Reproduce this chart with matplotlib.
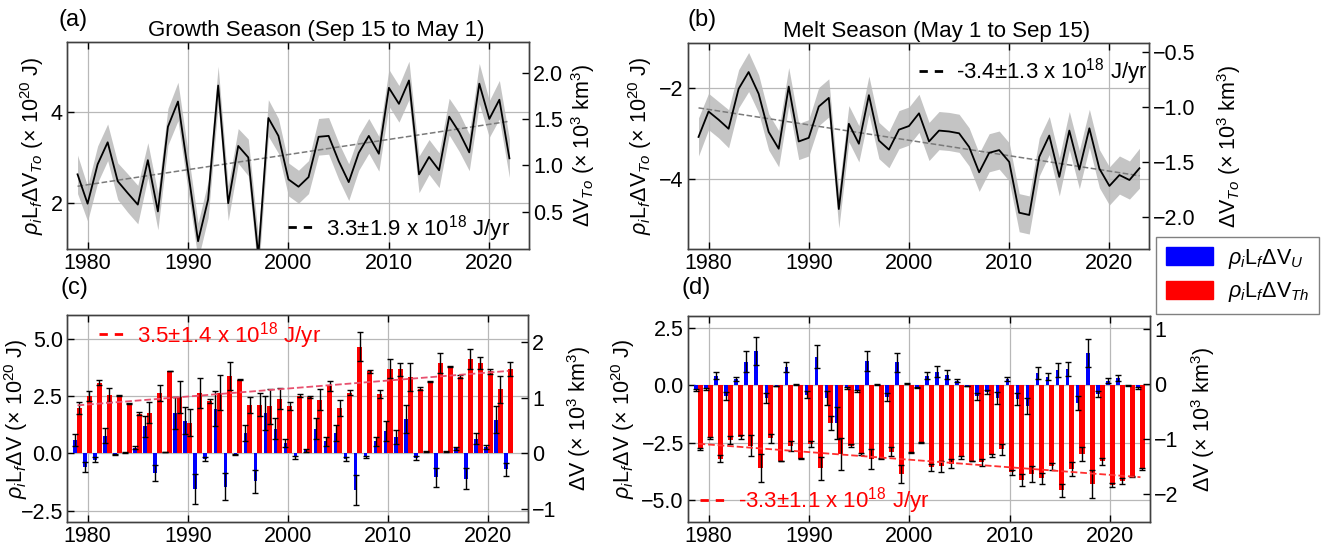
import numpy as np
import matplotlib
matplotlib.use('Agg')
import matplotlib.pyplot as plt
from matplotlib.lines import Line2D
from matplotlib.patches import Patch

plt.rcParams['font.family'] = ['Liberation Sans', 'DejaVu Sans']
plt.rcParams['mathtext.fontset'] = 'custom'
plt.rcParams['mathtext.rm'] = 'Liberation Sans'
plt.rcParams['mathtext.it'] = 'Liberation Sans:italic'
plt.rcParams['mathtext.bf'] = 'Liberation Sans:bold'

# ---------------- data ----------------
years_a = list(range(1979, 2023))
growth_total = [2.63, 1.99, 2.85, 3.33, 2.48, 2.22, 1.97, 2.94, 1.82, 3.67, 4.22, 2.70, 1.17, 2.08, 4.57,
                2.00, 3.25, 3.00, 0.85, 3.86, 3.47, 2.52, 2.36, 2.57, 3.45, 3.47, 2.92, 2.46, 3.10, 3.47,
                3.08, 4.52, 4.17, 4.68, 2.63, 3.01, 2.72, 3.89, 3.55, 3.11, 4.61, 3.84, 4.26, 2.98]
growth_unc = [0.42, 0.38, 0.40, 0.40, 0.40, 0.42, 0.42, 0.38, 0.40, 0.40, 0.42, 0.42, 0.40, 0.40, 0.42,
              0.38, 0.38, 0.40, 0.42, 0.40, 0.38, 0.36, 0.36, 0.36, 0.40, 0.40, 0.40, 0.40, 0.38, 0.38,
              0.38, 0.40, 0.40, 0.42, 0.40, 0.38, 0.38, 0.40, 0.42, 0.40, 0.44, 0.40, 0.42, 0.42]

years_b = list(range(1979, 2024))
melt_total = [-3.07, -2.51, -2.69, -2.89, -2.01, -1.64, -2.12, -2.96, -3.33, -1.96, -3.17, -3.09, -2.40,
              -2.21, -4.66, -2.78, -3.22, -2.15, -3.15, -3.35, -2.91, -2.83, -2.55, -3.17, -2.93, -2.95,
              -2.99, -3.29, -3.85, -3.42, -3.36, -3.62, -4.74, -4.79, -3.51, -3.04, -3.95, -2.93, -3.79,
              -2.88, -3.77, -4.15, -3.91, -4.02, -3.76]
melt_unc = [0.42, 0.40, 0.40, 0.42, 0.42, 0.43, 0.42, 0.40, 0.40, 0.42, 0.40, 0.40, 0.42, 0.42, 0.42,
            0.40, 0.40, 0.42, 0.40, 0.40, 0.42, 0.42, 0.42, 0.42, 0.42, 0.42, 0.42, 0.42, 0.42, 0.42,
            0.42, 0.42, 0.42, 0.42, 0.42, 0.42, 0.42, 0.42, 0.42, 0.42, 0.42, 0.42, 0.42, 0.42, 0.44]

growth_U = [0.60, -0.58, -0.28, 0.78, -0.05, 0.02, 0.25, 1.18, -0.85, 0.06, 1.75, 1.43, -1.57, -0.25, 1.95,
            -1.45, -0.03, 0.87, -1.22, 1.78, 1.08, 0.45, -0.18, 0.13, 1.08, 0.52, 0.90, -0.25, -1.60, -0.15,
            0.52, 0.98, 0.73, 1.52, -0.20, 0.08, -1.05, 0.08, 0.22, -1.10, 0.65, 0.27, 1.48, -0.70]
growth_Th = [1.99, 2.49, 3.09, 2.56, 2.52, 2.20, 1.73, 1.78, 2.65, 3.60, 2.46, 1.34, 2.65, 2.29, 2.65,
             3.39, 3.23, 2.13, 2.13, 2.05, 2.39, 2.07, 2.53, 2.46, 2.34, 2.94, 1.99, 2.65, 4.67, 3.58,
             2.60, 3.70, 3.67, 3.35, 2.82, 3.14, 3.96, 3.80, 3.36, 4.13, 3.96, 3.58, 2.80, 3.70]
growth_err = [0.26, 0.22, 0.10, 0.32, 0.02, 0.02, 0.07, 0.47, 0.35, 0.02, 0.70, 0.60, 0.66, 0.10, 0.77,
              0.61, 0.02, 0.35, 0.50, 0.75, 0.45, 0.17, 0.06, 0.06, 0.46, 0.21, 0.36, 0.10, 0.65, 0.05,
              0.19, 0.42, 0.30, 0.61, 0.07, 0.03, 0.43, 0.03, 0.07, 0.45, 0.25, 0.10, 0.60, 0.30]

melt_U = [-0.22, -0.17, 0.40, -0.49, 0.26, 1.01, 1.49, -0.56, -0.03, 0.79, 0.03, -0.43, 1.23, -0.56, -1.66,
          -0.14, -0.25, 1.05, 0.03, -0.53, 0.98, 0.07, -0.10, 0.40, 0.58, 0.45, 0.19, -0.04, -0.49, -0.29,
          -0.56, 0.26, -0.61, -0.92, 0.52, 0.36, 0.66, 0.71, -0.79, 1.40, -0.39, 0.19, 0.30, -0.02, -0.13]
melt_Th = [-2.77, -2.31, -3.21, -2.37, -2.27, -2.63, -3.61, -2.31, -3.31, -2.63, -3.21, -2.56, -3.61, -1.66,
           -2.99, -2.63, -2.99, -3.21, -3.18, -2.89, -3.86, -2.92, -2.49, -3.57, -3.53, -3.42, -3.14, -3.31,
           -3.35, -3.06, -2.80, -3.79, -4.12, -3.86, -4.05, -3.53, -4.58, -3.64, -2.99, -4.29, -3.31, -4.34,
           -4.15, -3.97, -3.64]
melt_err = [0.05, 0.05, 0.15, 0.17, 0.08, 0.45, 0.60, 0.20, 0.01, 0.22, 0.02, 0.15, 0.50, 0.30, 0.70,
            0.05, 0.05, 0.45, 0.02, 0.18, 0.40, 0.03, 0.03, 0.15, 0.25, 0.20, 0.07, 0.01, 0.15, 0.08,
            0.25, 0.10, 0.25, 0.35, 0.25, 0.15, 0.30, 0.30, 0.30, 0.60, 0.15, 0.10, 0.13, 0.01, 0.03]

# trends (x 10^20 J per yr, value at 1979)
trend_a = (0.033, 2.37)
trend_b = (-0.034, -2.43)
trend_c = (0.035, 2.10)
trend_d = (-0.033, -2.55)
trend_labels = [r'3.3$\pm$1.9 x 10$^{18}$ J/yr', r'-3.4$\pm$1.3 x 10$^{18}$ J/yr',
                r'3.5$\pm$1.4 x 10$^{18}$ J/yr', r'-3.3$\pm$1.1 x 10$^{18}$ J/yr']

# ---------------- figure ----------------
W, H = 1325, 553
fig = plt.figure(figsize=(W / 100, H / 100), dpi=100)

def axbox(l, r, t, b):
    return [l / W, 1 - b / H, (r - l) / W, (b - t) / H]

ax_a = fig.add_axes(axbox(67, 529, 42, 249))
ax_b = fig.add_axes(axbox(688, 1149, 43, 249))
ax_c = fig.add_axes(axbox(67, 528, 315, 522))
ax_d = fig.add_axes(axbox(688, 1150, 316, 522))

SPINE = '#404040'
FS = 15.5     # tick labels
LFS = 15.5    # axis labels
TFS = 16      # titles / trend legends

def style(ax):
    ax.set_xlim(1977.95, 2023.95)
    ax.set_xticks([1980, 1990, 2000, 2010, 2020])
    ax.grid(True, color='#b8b8b8', lw=0.9)
    ax.tick_params(direction='in', top=True, length=5, width=1, labelsize=FS, colors='black', pad=3)
    for s in ax.spines.values():
        s.set_color(SPINE)
        s.set_linewidth(1.0)

def twin(ax, lim, ticks):
    r = ax.twinx()
    r.set_ylim(*lim)
    r.set_yticks(ticks)
    r.tick_params(direction='in', length=5, width=1, labelsize=FS, pad=3)
    for s in r.spines.values():
        s.set_color(SPINE)
        s.set_linewidth(1.0)
    return r

def trend_line(ax, years, tr, **kw):
    y = np.array(years, dtype=float)
    ax.plot(y, tr[1] + tr[0] * (y - 1979), **kw)

lab_to = r'$\rho_i\mathrm{L}_f\Delta\mathrm{V}_{To}$ (× 10$^{20}$ J)'
lab_v = r'$\rho_i\mathrm{L}_f\Delta\mathrm{V}$ (× 10$^{20}$ J)'
rlab_to = r'$\Delta\mathrm{V}_{To}$ (× 10$^3$ km$^3$)'
rlab_v = r'$\Delta\mathrm{V}$ (× 10$^3$ km$^3$)'

def trend_legend(ax, color, label, anchor, textcolor='black'):
    ax.legend([Line2D([], [], color=color, ls=(0, (3, 2.5)), lw=2)], [label],
              loc='center left', bbox_to_anchor=anchor, frameon=False, fontsize=TFS,
              handlelength=1.3, handletextpad=0.4, borderpad=0, borderaxespad=0,
              labelcolor=textcolor)

# ----- (a) -----
ya = np.array(years_a); va = np.array(growth_total); ua = np.array(growth_unc)
ax_a.fill_between(ya, va - ua, va + ua, color='#c4c4c4', lw=0, zorder=1)
ax_a.plot(ya, va, color='black', lw=1.3, zorder=3)
trend_line(ax_a, years_a, trend_a, ls='--', color='#7a7a7a', lw=1.1, zorder=2)
style(ax_a)
ax_a.set_ylim(1.0, 5.52)
ax_a.set_yticks([2, 4])
ax_a.set_ylabel(lab_to, fontsize=LFS)
ax_a.yaxis.set_label_coords(-0.046, 0.5)
ra = twin(ax_a, (0.10, 2.33), [0.5, 1.0, 1.5, 2.0])
ra.set_ylabel(rlab_to, fontsize=LFS)
ra.yaxis.set_label_coords(1.086, 0.5)
trend_legend(ax_a, 'black', trend_labels[0], (0.478, 0.10))
ax_a.text(0.54, 1.005, 'Growth Season (Sep 15 to May 1)', transform=ax_a.transAxes,
          ha='center', va='bottom', fontsize=TFS)

# ----- (b) -----
yb = np.array(years_b); vb = np.array(melt_total); ub = np.array(melt_unc)
ax_b.fill_between(yb, vb - ub, vb + ub, color='#c4c4c4', lw=0, zorder=1)
ax_b.plot(yb, vb, color='black', lw=1.3, zorder=3)
trend_line(ax_b, years_b, trend_b, ls='--', color='#7a7a7a', lw=1.1, zorder=2)
style(ax_b)
ax_b.set_ylim(-5.54, -1.0)
ax_b.set_yticks([-4, -2])
ax_b.set_ylabel(lab_to, fontsize=LFS)
ax_b.yaxis.set_label_coords(-0.074, 0.5)
rb = twin(ax_b, (-2.29, -0.42), [-2.0, -1.5, -1.0, -0.5])
rb.set_ylabel(rlab_to, fontsize=LFS)
rb.yaxis.set_label_coords(1.143, 0.5)
trend_legend(ax_b, 'black', trend_labels[1], (0.500, 0.859))
ax_b.text(0.54, 1.005, 'Melt Season (May 1 to Sep 15)', transform=ax_b.transAxes,
          ha='center', va='bottom', fontsize=TFS)

# ----- bars -----
def bars(ax, years, U, Th, err):
    y = np.array(years, dtype=float)
    ax.bar(y - 0.25, U, width=0.36, color='#0000ff', zorder=2)
    ax.bar(y + 0.18, Th, width=0.5, color='#ff0000', zorder=2)
    ax.errorbar(y - 0.25, U, yerr=err, fmt='none', ecolor='black', elinewidth=1,
                capsize=2, capthick=1, zorder=4)
    ax.errorbar(y + 0.18, Th, yerr=err, fmt='none', ecolor='black', elinewidth=1,
                capsize=2, capthick=1, zorder=4)

# ----- (c) -----
bars(ax_c, years_a, growth_U, growth_Th, growth_err)
trend_line(ax_c, years_a, trend_c, ls='--', color='#e8506e', lw=1.3, zorder=5)
style(ax_c)
ax_c.set_ylim(-3.0, 6.05)
ax_c.set_yticks([-2.5, 0.0, 2.5, 5.0])
ax_c.set_ylabel(lab_v, fontsize=LFS)
ax_c.yaxis.set_label_coords(-0.080, 0.5)
rc = twin(ax_c, (-1.23, 2.48), [-1, 0, 1, 2])
rc.set_ylabel(rlab_v, fontsize=LFS)
rc.yaxis.set_label_coords(1.080, 0.5)
trend_legend(ax_c, '#ff0000', trend_labels[2], (0.069, 0.903), textcolor='#ff0000')

# ----- (d) -----
bars(ax_d, years_b, melt_U, melt_Th, melt_err)
trend_line(ax_d, years_b, trend_d, ls='--', color='#ff3030', lw=1.3, zorder=5)
style(ax_d)
ax_d.set_ylim(-5.95, 3.0)
ax_d.set_yticks([-5.0, -2.5, 0.0, 2.5])
ax_d.set_ylabel(lab_v, fontsize=LFS)
ax_d.yaxis.set_label_coords(-0.110, 0.5)
rd = twin(ax_d, (-2.5, 1.24), [-2, -1, 0, 1])
rd.set_ylabel(rlab_v, fontsize=LFS)
rd.yaxis.set_label_coords(1.084, 0.5)
trend_legend(ax_d, '#ff0000', trend_labels[3], (0.026, 0.102), textcolor='#ff0000')

# panel letters
for lbl, x, y in [('(a)', 73, 20), ('(b)', 702, 20), ('(c)', 74, 288), ('(d)', 696, 288)]:
    fig.text(x / W, 1 - y / H, lbl, ha='center', va='center', fontsize=17)

# shared legend
fig.legend([Patch(color='#0000ff'), Patch(color='#ff0000')],
           [r'$\rho_i\mathrm{L}_f\Delta\mathrm{V}_U$', r'$\rho_i\mathrm{L}_f\Delta\mathrm{V}_{Th}$'],
           loc='upper left', bbox_to_anchor=(1156 / W, 1 - 237 / H), fontsize=15.5,
           fancybox=False, edgecolor='#808080', framealpha=1, handlelength=2.2, handleheight=0.9,
           borderpad=0.45, labelspacing=0.45, handletextpad=0.7, borderaxespad=0)

fig.savefig('out.png', dpi=100)
